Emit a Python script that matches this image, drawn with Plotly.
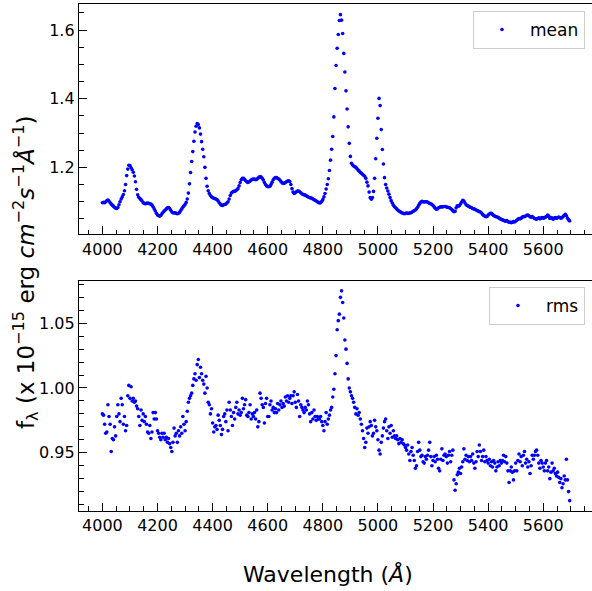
import numpy as np
import plotly.graph_objects as go

# ---------------- data ----------------
wave_start = 4000
wave_step = 4
mean_flux = [
    1.097, 1.098, 1.097, 1.100, 1.103, 1.105, 1.102, 1.097, 1.093, 1.090,
    1.087, 1.084, 1.081, 1.080, 1.083, 1.091, 1.100, 1.108, 1.114, 1.121,
    1.132, 1.150, 1.176, 1.195, 1.206, 1.205, 1.199, 1.193, 1.186, 1.175,
    1.158, 1.136, 1.120, 1.113, 1.109, 1.106, 1.102, 1.097, 1.095, 1.094,
    1.095, 1.096, 1.095, 1.094, 1.093, 1.090, 1.085, 1.079, 1.073, 1.066,
    1.061, 1.059, 1.058, 1.060, 1.065, 1.069, 1.073, 1.076, 1.079, 1.082,
    1.083, 1.081, 1.075, 1.070, 1.068, 1.067, 1.068, 1.066, 1.065, 1.066,
    1.069, 1.074, 1.079, 1.084, 1.088, 1.092, 1.098, 1.108, 1.125, 1.152,
    1.185, 1.217, 1.246, 1.276, 1.303, 1.320, 1.328, 1.325, 1.315, 1.297,
    1.275, 1.253, 1.231, 1.200, 1.168, 1.145, 1.132, 1.124, 1.118, 1.114,
    1.112, 1.110, 1.109, 1.108, 1.106, 1.102, 1.097, 1.093, 1.090, 1.089,
    1.091, 1.092, 1.093, 1.096, 1.100, 1.108, 1.118, 1.125, 1.128, 1.130,
    1.130, 1.132, 1.135, 1.138, 1.146, 1.156, 1.164, 1.168, 1.168, 1.165,
    1.161, 1.158, 1.156, 1.158, 1.160, 1.163, 1.165, 1.166, 1.166, 1.164,
    1.165, 1.168, 1.171, 1.173, 1.172, 1.168, 1.163, 1.156, 1.150, 1.146,
    1.144, 1.144, 1.145, 1.150, 1.157, 1.164, 1.168, 1.170, 1.170, 1.168,
    1.166, 1.163, 1.159, 1.155, 1.153, 1.154, 1.156, 1.158, 1.160, 1.161,
    1.159, 1.150, 1.138, 1.128, 1.124, 1.126, 1.129, 1.131, 1.131, 1.129,
    1.126, 1.123, 1.121, 1.120, 1.119, 1.117, 1.115, 1.113, 1.112, 1.111,
    1.110, 1.108, 1.106, 1.104, 1.102, 1.100, 1.098, 1.096, 1.097, 1.101,
    1.106, 1.114, 1.124, 1.137, 1.150, 1.167, 1.191, 1.221, 1.253, 1.290,
    1.347, 1.430, 1.497, 1.547, 1.587, 1.628, 1.645, 1.629, 1.590, 1.532,
    1.478, 1.423, 1.370, 1.318, 1.270, 1.232, 1.212, 1.207, 1.204, 1.202,
    1.200, 1.196, 1.192, 1.189, 1.186, 1.183, 1.180, 1.177, 1.174, 1.168,
    1.157, 1.146, 1.128, 1.112, 1.107, 1.112, 1.130, 1.168, 1.225, 1.285,
    1.343, 1.401, 1.380, 1.310, 1.252, 1.210, 1.170, 1.150, 1.140, 1.131,
    1.122, 1.112, 1.103, 1.096, 1.090, 1.085, 1.082, 1.079, 1.076, 1.073,
    1.071, 1.069, 1.067, 1.066, 1.065, 1.066, 1.067, 1.066, 1.066, 1.067,
    1.068, 1.070, 1.072, 1.074, 1.076, 1.079, 1.084, 1.090, 1.095, 1.099,
    1.101, 1.100, 1.099, 1.100, 1.100, 1.099, 1.097, 1.095, 1.094, 1.092,
    1.089, 1.085, 1.081, 1.078, 1.079, 1.082, 1.084, 1.085, 1.085, 1.085,
    1.086, 1.086, 1.085, 1.084, 1.083, 1.082, 1.080, 1.077, 1.074, 1.071,
    1.072, 1.082, 1.088, 1.087, 1.089, 1.094, 1.099, 1.104, 1.102, 1.096,
    1.091, 1.089, 1.087, 1.085, 1.084, 1.082, 1.080, 1.079, 1.078, 1.076,
    1.074, 1.073, 1.071, 1.070, 1.067, 1.063, 1.060, 1.058, 1.056, 1.057,
    1.061, 1.064, 1.066, 1.066, 1.063, 1.060, 1.058, 1.056, 1.056, 1.054,
    1.052, 1.050, 1.048, 1.047, 1.046, 1.044, 1.043, 1.045, 1.042, 1.040,
    1.041, 1.039, 1.040, 1.042, 1.041, 1.043, 1.046, 1.049, 1.051, 1.050,
    1.052, 1.055, 1.057, 1.056, 1.058, 1.060, 1.061, 1.059, 1.056, 1.055,
    1.057, 1.054, 1.051, 1.050, 1.049, 1.051, 1.053, 1.050, 1.052, 1.054,
    1.052, 1.053, 1.055, 1.057, 1.061, 1.058, 1.051, 1.054, 1.052, 1.049,
    1.052, 1.054, 1.052, 1.053, 1.055, 1.054, 1.052, 1.053, 1.057, 1.060,
    1.063, 1.059, 1.052, 1.047, 1.044,
]
rms_flux = [
    0.980, 0.979, 0.972, 0.965, 0.966, 0.987, 0.978, 0.972, 0.951, 0.961,
    0.960, 0.970, 0.963, 0.978, 0.987, 0.980, 0.974, 0.992, 0.987, 0.972,
    0.978, 0.967, 0.971, 0.994, 1.002, 0.992, 1.001, 0.990, 0.992, 0.989,
    0.990, 0.986, 0.984, 0.978, 0.971, 0.983, 0.975, 0.980, 0.974, 0.978,
    0.972, 0.966, 0.965, 0.971, 0.961, 0.966, 0.981, 0.976, 0.981, 0.976,
    0.967, 0.965, 0.962, 0.960, 0.965, 0.962, 0.965, 0.960, 0.962, 0.958,
    0.961, 0.957, 0.954, 0.951, 0.958, 0.969, 0.963, 0.965, 0.958, 0.967,
    0.963, 0.970, 0.965, 0.978, 0.972, 0.967, 0.974, 0.982, 0.989, 0.992,
    0.994, 0.996, 1.002, 1.007, 1.011, 1.006, 1.018, 1.022, 1.008, 1.016,
    1.011, 1.006, 1.003, 0.996, 1.009, 1.000, 0.989, 0.987, 0.980, 0.984,
    0.973, 0.966, 0.970, 0.971, 0.968, 0.979, 0.975, 0.971, 0.964, 0.968,
    0.978, 0.980, 0.974, 0.983, 0.967, 0.989, 0.983, 0.978, 0.971, 0.981,
    0.976, 0.985, 0.989, 0.980, 0.983, 0.979, 0.981, 0.992, 0.984, 0.987,
    0.991, 0.979, 0.978, 0.981, 0.987, 0.976, 0.980, 0.978, 0.981, 0.976,
    0.983, 0.970, 0.974, 0.996, 0.992, 0.987, 0.985, 0.973, 0.988, 0.992,
    0.978, 0.978, 0.987, 0.990, 0.983, 0.985, 0.981, 0.984, 0.981, 0.988,
    0.983, 0.987, 0.990, 0.985, 0.988, 0.986, 0.993, 0.990, 0.994, 0.989,
    0.992, 0.994, 0.988, 0.994, 0.997, 0.989, 0.985, 0.995, 0.990, 0.978,
    0.987, 0.985, 0.983, 0.981, 0.985, 0.983, 0.990, 0.987, 0.980, 0.974,
    0.981, 0.976, 0.983, 0.978, 0.975, 0.978, 0.976, 0.976, 0.978, 0.974,
    0.971, 0.967, 0.974, 0.981, 0.972, 0.976, 0.979, 0.983, 0.985, 0.993,
    0.999, 1.011, 1.025, 1.045, 1.052, 1.057, 1.070, 1.075, 1.066, 1.054,
    1.037, 1.030, 1.019, 1.007, 1.000, 0.997, 0.994, 0.992, 0.989, 0.985,
    0.980, 0.984, 0.979, 0.981, 0.976, 0.972, 0.967, 0.961, 0.954, 0.958,
    0.969, 0.965, 0.970, 0.974, 0.971, 0.963, 0.965, 0.975, 0.970, 0.967,
    0.960, 0.952, 0.949, 0.958, 0.963, 0.969, 0.974, 0.976, 0.967, 0.961,
    0.970, 0.965, 0.971, 0.962, 0.967, 0.963, 0.961, 0.963, 0.960, 0.957,
    0.961, 0.958, 0.960, 0.957, 0.956, 0.954, 0.952, 0.956, 0.949, 0.944,
    0.951, 0.954, 0.948, 0.944, 0.938, 0.940, 0.951, 0.958, 0.952, 0.947,
    0.948, 0.943, 0.942, 0.947, 0.945, 0.948, 0.952, 0.958, 0.947, 0.940,
    0.944, 0.947, 0.943, 0.948, 0.945, 0.938, 0.936, 0.945, 0.953, 0.944,
    0.948, 0.949, 0.947, 0.942, 0.948, 0.951, 0.943, 0.948, 0.952, 0.929,
    0.921, 0.926, 0.933, 0.935, 0.938, 0.934, 0.939, 0.943, 0.953, 0.945,
    0.948, 0.944, 0.947, 0.943, 0.947, 0.944, 0.949, 0.942, 0.938, 0.943,
    0.951, 0.947, 0.956, 0.951, 0.944, 0.947, 0.952, 0.943, 0.947, 0.944,
    0.942, 0.945, 0.940, 0.943, 0.939, 0.944, 0.942, 0.936, 0.939, 0.943,
    0.940, 0.944, 0.942, 0.944, 0.948, 0.943, 0.947, 0.942, 0.936, 0.927,
    0.936, 0.939, 0.935, 0.929, 0.936, 0.942, 0.936, 0.944, 0.949, 0.943,
    0.947, 0.940, 0.948, 0.951, 0.942, 0.945, 0.939, 0.943, 0.934, 0.940,
    0.948, 0.945, 0.948, 0.951, 0.952, 0.948, 0.942, 0.938, 0.944, 0.942,
    0.939, 0.936, 0.942, 0.944, 0.936, 0.939, 0.930, 0.935, 0.942, 0.936,
    0.938, 0.934, 0.932, 0.935, 0.931, 0.927, 0.930, 0.923, 0.926, 0.932,
    0.929, 0.945, 0.929, 0.920, 0.913,
]
wavelength = wave_start + wave_step * np.arange(len(mean_flux))
x_tick_vals = [4000, 4200, 4400, 4600, 4800, 5000, 5200, 5400, 5600]

# ---------------- figure ----------------
W, H = 592, 591
L, R, T, B = 79, 0, 4, 80
font_family = "DejaVu Sans"
blue = "#0000ff"

fig = go.Figure()
fig.add_trace(go.Scatter(x=wavelength, y=mean_flux, mode="markers", name="mean",
                         marker=dict(color=blue, size=3.6, line=dict(width=0)),
                         xaxis="x", yaxis="y", legend="legend"))
fig.add_trace(go.Scatter(x=wavelength, y=rms_flux, mode="markers", name="rms",
                         marker=dict(color=blue, size=3.6, line=dict(width=0)),
                         xaxis="x2", yaxis="y2", legend="legend2"))

plot_h = H - T - B
def dom_y(top_px, bot_px):
    return [(H - B - bot_px) / plot_h, (H - B - top_px) / plot_h]

tickfont = dict(family=font_family, size=16, color="black")
common_x = dict(range=[3915, 5777], tickvals=x_tick_vals, ticks="inside", ticklen=8,
                tickwidth=1.2, tickcolor="black", showline=True, linecolor="black",
                linewidth=1.3, mirror=True, showgrid=False, zeroline=False,
                tickfont=tickfont,
                minor=dict(dtick=50, tick0=0, ticks="inside", ticklen=4.5, tickwidth=1,
                           tickcolor="black", showgrid=False))
common_y = dict(ticks="inside", ticklen=8, tickwidth=1.2, tickcolor="black", showline=True,
                linecolor="black", linewidth=1.3, mirror=False, showgrid=False,
                zeroline=False, tickfont=tickfont)
legend_style = dict(xanchor="right", yanchor="top", bgcolor="rgba(255,255,255,0.8)",
                    bordercolor="#cccccc", borderwidth=1, itemwidth=46,
                    font=dict(family=font_family, size=17, color="black"))

fig.update_layout(
    width=W, height=H, margin=dict(l=L, r=R, t=T, b=B),
    paper_bgcolor="white", plot_bgcolor="white",
    font=dict(family=font_family, size=16, color="black"),
    xaxis=dict(common_x, anchor="y", domain=[0, 1]),
    yaxis=dict(common_y, anchor="x", domain=dom_y(4, 234.3), range=[1.005, 1.676],
               tick0=1.2, dtick=0.2, tickformat=".1f",
               minor=dict(dtick=0.05, tick0=0, ticks="inside", ticklen=4.5, tickwidth=1,
                          tickcolor="black", showgrid=False)),
    xaxis2=dict(common_x, anchor="y2", domain=[0, 1]),
    yaxis2=dict(common_y, anchor="x2", domain=dom_y(280.5, 511), range=[0.905, 1.083],
                tick0=0.95, dtick=0.05, tickformat=".2f",
                minor=dict(dtick=0.01, tick0=0, ticks="inside", ticklen=4.5, tickwidth=1,
                           tickcolor="black", showgrid=False)),
    legend=dict(legend_style, x=(585 - L) / (W - L), y=(H - B - 11) / plot_h),
    legend2=dict(legend_style, x=(585 - L) / (W - L), y=(H - B - 287) / plot_h),
    showlegend=True,
)

fig.add_annotation(text="Wavelength (<i>Å</i>)", xref="paper", yref="paper",
                   x=(327.5 - L) / (W - L), y=(H - B - 574) / plot_h,
                   xanchor="center", yanchor="middle", showarrow=False,
                   font=dict(family=font_family, size=22, color="black"))
fig.add_annotation(text="f<sub>λ</sub> (x 10<sup>−15</sup> erg <i>cm</i><sup>−2</sup><i>s</i><sup>−1</sup><i>Å</i><sup>−1</sup>)",
                   xref="paper", yref="paper",
                   x=(25 - L) / (W - L), y=(H - B - 272) / plot_h,
                   xanchor="center", yanchor="middle", textangle=-90, showarrow=False,
                   font=dict(family=font_family, size=23, color="black"))

fig.write_html("out.html", config={"displayModeBar": False},
               post_script="document.body.style.margin='0';document.body.style.overflow='hidden';")
